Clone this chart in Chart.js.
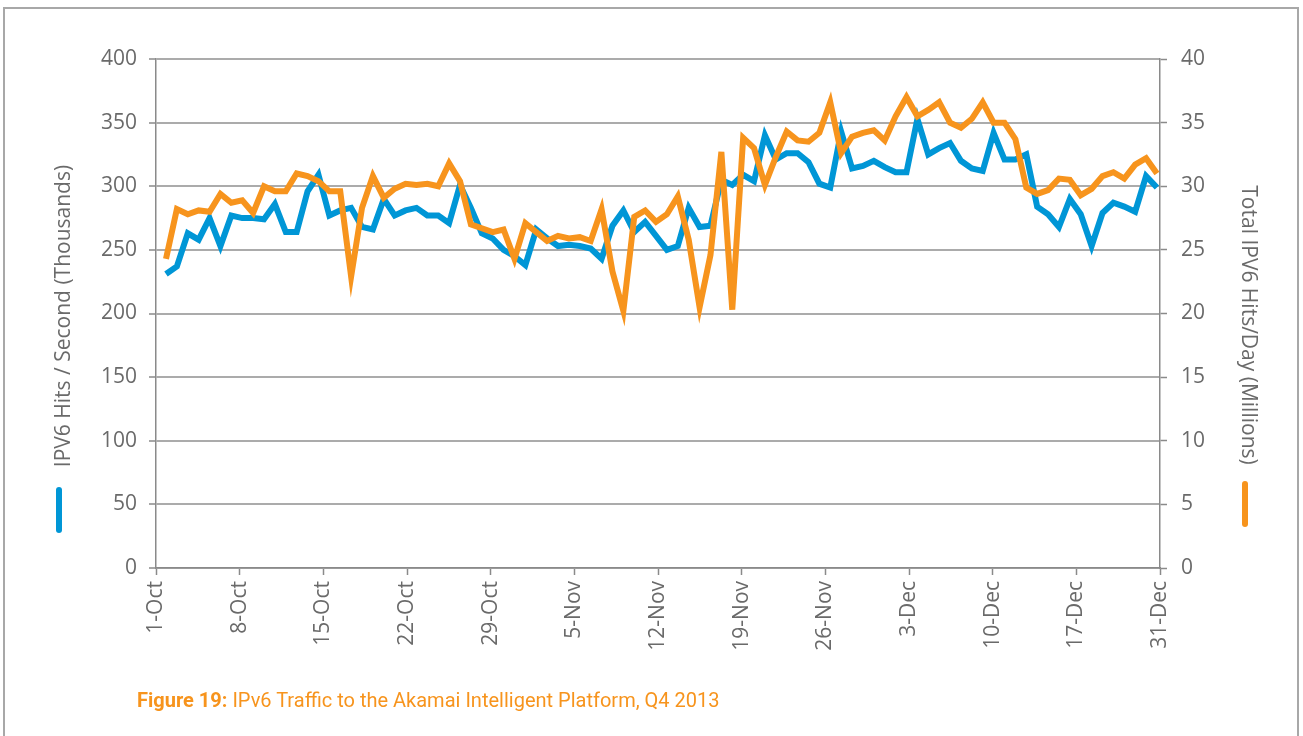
<!DOCTYPE html>
<html>
<head>
<meta charset="utf-8">
<script src="https://cdn.jsdelivr.net/npm/chart.js@4"></script>
<style>
  html, body { margin: 0; padding: 0; background: #fff; }
  #wrap { position: relative; width: 1303px; height: 736px; overflow: hidden; }
  #frame { position: absolute; left: 3px; top: 7px; width: 1296px; height: 760px;
           border: 2px solid #a8a8a8; box-sizing: border-box; }
  canvas { position: absolute; left: 0; top: 0; }
  #caption { position: absolute; left: 137px; top: 688px; font-family: "Liberation Sans Narrow", "Roboto", sans-serif;
             font-size: 21px; color: #f7941d; white-space: nowrap;
             transform: scaleX(0.953); transform-origin: 0 50%; }
  #caption b { font-weight: bold; }
</style>
</head>
<body>
<div id="wrap">
  <div id="frame"></div>
  <canvas id="c" width="1303" height="736"></canvas>
  <div id="caption"><b>Figure 19:</b> IPv6 Traffic to the Akamai Intelligent Platform, Q4 2013</div>
</div>
<script>
// Tick labels along the x axis (evenly spaced)
const tickLabels = ["1-Oct","8-Oct","15-Oct","22-Oct","29-Oct","5-Nov","12-Nov","19-Nov","26-Nov","3-Dec","10-Dec","17-Dec","31-Dec"];

// IPv6 hits / second (thousands), daily
const hitsPerSecond = [
  231,237,263,258,275,253,277,275,275,274,286,264,264,296,309,277,281,283,268,266,
  290,277,281,283,277,277,271,301,283,263,259,250,245,238,266,259,253,254,253,251,
  243,269,281,264,272,261,250,253,283,268,269,305,301,309,304,340,321,326,326,319,
  302,299,343,314,316,320,315,311,311,353,325,330,334,320,314,312,342,321,321,325,
  284,278,268,290,278,253,279,287,284,280,308,299
];

// Total IPv6 hits / day (millions), daily
const hitsPerDay = [
  24.3,28.2,27.8,28.1,28.0,29.4,28.7,28.9,27.9,30.0,29.6,29.6,31.0,30.8,30.4,29.6,29.6,22.9,28.3,30.8,
  29.1,29.8,30.2,30.1,30.2,30.0,31.8,30.4,27.0,26.7,26.4,26.6,24.3,27.1,26.4,25.7,26.1,25.9,26.0,25.7,
  28.2,23.3,20.2,27.6,28.1,27.2,27.8,29.2,25.8,20.5,24.6,32.7,20.3,33.8,33.0,30.1,32.3,34.3,33.6,33.5,
  34.2,36.6,32.6,33.9,34.2,34.4,33.6,35.5,37.0,35.5,36.0,36.6,35.0,34.6,35.3,36.6,35.0,35.0,33.7,29.9,
  29.4,29.7,30.6,30.5,29.3,29.8,30.8,31.1,30.6,31.7,32.2,31.0
];

const leftTitle = "IPV6 Hits / Second (Thousands)";
const rightTitle = "Total IPV6 Hits/Day (Millions)";

const BLUE = "#0096d6";
const ORANGE = "#f7941d";
const AXIS = "#8a8a8a";
const GRID = "#ababab";
const TXT = "#6a6a6a";
const TICKFONT = { family: "'Open Sans', 'Noto Sans', sans-serif", size: 21 };

const sideTitles = {
  id: "sideTitles",
  afterDraw(chart) {
    const ctx = chart.ctx;
    const a = chart.chartArea;
    ctx.save();
    ctx.fillStyle = TXT;
    ctx.font = "21px 'Open Sans', 'Noto Sans', sans-serif";
    ctx.textAlign = "center";
    ctx.textBaseline = "middle";
    // left title
    ctx.save();
    ctx.translate(a.left - 92, a.top + 257);
    ctx.rotate(-Math.PI / 2);
    ctx.fillText(leftTitle, 0, 0);
    ctx.restore();
    // right title
    ctx.save();
    ctx.translate(a.right + 88, a.top + 266);
    ctx.rotate(Math.PI / 2);
    ctx.fillText(rightTitle, 0, 0);
    ctx.restore();
    // legend markers
    ctx.lineCap = "round";
    ctx.lineWidth = 6;
    ctx.strokeStyle = BLUE;
    ctx.beginPath();
    ctx.moveTo(a.left - 97, a.top + 431);
    ctx.lineTo(a.left - 97, a.top + 471);
    ctx.stroke();
    ctx.strokeStyle = ORANGE;
    ctx.beginPath();
    ctx.moveTo(a.right + 85, a.top + 425);
    ctx.lineTo(a.right + 85, a.top + 465);
    ctx.stroke();
    ctx.restore();
  }
};

new Chart(document.getElementById("c"), {
  type: "line",
  data: {
    datasets: [
      {
        label: rightTitle,
        data: hitsPerDay.map((v, i) => ({ x: i, y: v })),
        yAxisID: "y1", xAxisID: "x",
        borderColor: ORANGE, borderWidth: 6, pointRadius: 0, tension: 0,
        borderJoinStyle: "miter", order: 0
      },
      {
        label: leftTitle,
        data: hitsPerSecond.map((v, i) => ({ x: i, y: v })),
        yAxisID: "y", xAxisID: "x",
        borderColor: BLUE, borderWidth: 6, pointRadius: 0, tension: 0,
        borderJoinStyle: "miter", order: 1
      }
    ]
  },
  options: {
    responsive: false,
    animation: false,
    events: [],
    layout: { padding: { top: 59, left: 0, right: 0, bottom: 0 } },
    plugins: { legend: { display: false }, tooltip: { enabled: false }, title: { display: false } },
    scales: {
      x: { type: "linear", display: false, min: -0.918, max: 91.28 },
      xl: {
        type: "linear", position: "bottom", min: 0, max: tickLabels.length - 1,
        afterFit(s) { s.height = 168; },
        afterBuildTicks(s) { s.ticks = tickLabels.map((_, i) => ({ value: i })); },
        ticks: {
          autoSkip: false, maxRotation: 90, minRotation: 90, padding: 6,
          color: TXT, font: TICKFONT,
          callback: (v) => tickLabels[v]
        },
        grid: { drawOnChartArea: false, drawTicks: true, tickLength: 7, tickColor: AXIS, tickWidth: 1.5 },
        border: { display: true, color: AXIS, width: 1.5 }
      },
      y: {
        type: "linear", position: "left", min: 0, max: 400,
        afterFit(s) { s.width = 156; },
        ticks: { stepSize: 50, padding: 12, color: TXT, font: TICKFONT },
        grid: { color: GRID, lineWidth: 2, drawTicks: true, tickLength: 7, tickColor: AXIS, tickWidth: 1.5 },
        border: { display: true, color: AXIS, width: 1.5 }
      },
      y1: {
        type: "linear", position: "right", min: 0, max: 40,
        afterFit(s) { s.width = 143; },
        ticks: { stepSize: 5, padding: 14, color: TXT, font: TICKFONT },
        grid: { drawOnChartArea: false, drawTicks: true, tickLength: 7, tickColor: AXIS, tickWidth: 1.5 },
        border: { display: true, color: AXIS, width: 1.5 }
      }
    }
  },
  plugins: [sideTitles]
});
</script>
</body>
</html>
